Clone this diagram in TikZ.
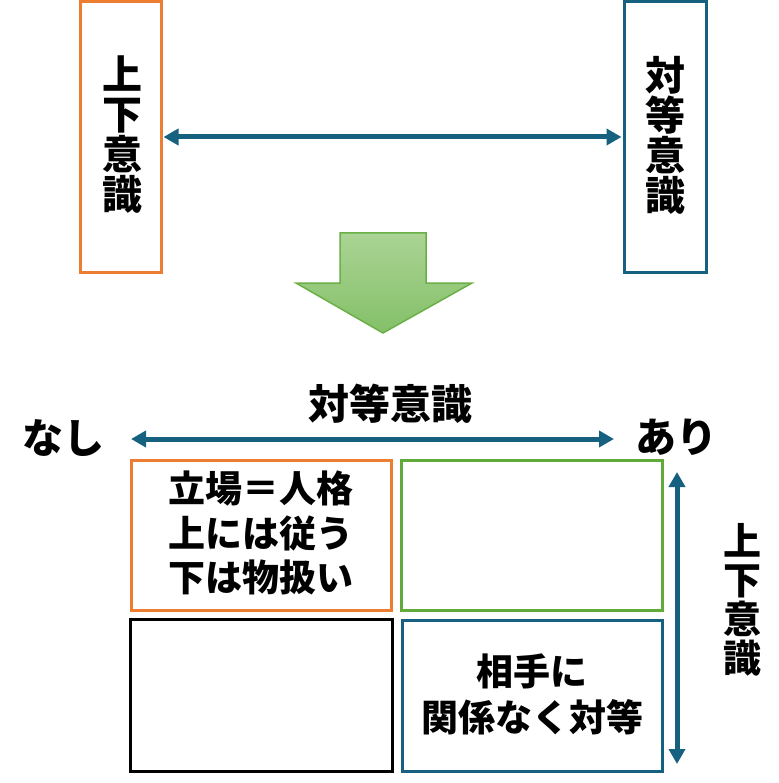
\documentclass[tikz,border=0pt]{standalone}
\usepackage{fontspec}
\setmainfont{Noto Sans CJK JP}
\usetikzlibrary{arrows.meta}
\definecolor{cOrange}{RGB}{237,125,49}
\definecolor{cBlue}{RGB}{22,96,128}
\definecolor{cGreen}{RGB}{98,170,58}
\definecolor{gTop}{RGB}{170,212,148}
\definecolor{gBot}{RGB}{132,192,104}
\definecolor{gEdge}{RGB}{106,176,70}
\tikzset{
  box/.style={draw, line width=3pt, fill=white, inner sep=0pt, align=center},
  vtext/.style={font=\bfseries\fontsize{40}{40}\selectfont, align=center, inner sep=0pt},
  qtext/.style={font=\bfseries\fontsize{37}{44.5}\selectfont},
  lbl/.style={font=\bfseries\fontsize{41}{41}\selectfont, inner sep=0pt},
  arr/.style={draw=cBlue, line width=5pt, {Triangle[length=15pt,width=16pt]}-{Triangle[length=15pt,width=16pt]}}
}
\begin{document}
\begin{tikzpicture}[x=1pt,y=-1pt]
\useasboundingbox (0,0) rectangle (778,783);
% top boxes
\node[box, draw=cOrange, minimum width=81pt, minimum height=270pt] (L) at (120.5,137) {};
\node[vtext] (Lt) at (122,135) {上\\下\\意\\識};
\node[box, draw=cBlue, minimum width=82pt, minimum height=270pt] (R) at (665,137) {};
\node[vtext] (Rt) at (665,135) {対\\等\\意\\識};
\draw[arr, shorten <=1pt, shorten >=1pt] (L.east) -- (R.west);
% green arrow
\shade[top color=gTop, bottom color=gBot, draw=gEdge, line width=1.5pt, line join=miter]
  (340,233) -- (426,233) -- (426,283) -- (472,283) -- (383,333) -- (296,283) -- (340,283) -- cycle;
% middle labels
\node[lbl] (mt) at (390,404) {対等意識};
\node[lbl] (nashi) at (63,438) {なし};
\node[lbl] (ari) at (676,437) {あり};
\coordinate (m1) at (131,439);
\coordinate (m2) at (614,439);
\draw[arr] (m1) -- (m2);
% quadrants
\node[box, draw=cOrange, minimum width=260pt, minimum height=150pt] (Q1) at (261,535) {};
\node[qtext, align=center, inner sep=0pt] (Q1t) at (261,533) {立場＝人格\\上には従う\\下は物扱い};
\node[box, draw=cGreen, minimum width=261pt, minimum height=150pt] (Q2) at (531.5,535) {};
\node[box, draw=black, minimum width=262pt, minimum height=152pt] (Q3) at (261,695) {};
\node[box, draw=cBlue, minimum width=260pt, minimum height=151pt] (Q4) at (532,695.5) {};
\node[font=\bfseries\fontsize{37}{46}\selectfont, align=center, inner sep=0pt] (Q4t) at (532,694) {相手に\\関係なく対等};
% vertical arrow
\coordinate (v1) at (677,472);
\coordinate (v2) at (677,764);
\draw[arr] (v1) -- (v2);
\node[font=\bfseries\fontsize{38}{39}\selectfont, align=center, inner sep=0pt] (Vt) at (742,600) {上\\下\\意\\識};
\end{tikzpicture}
\end{document}
